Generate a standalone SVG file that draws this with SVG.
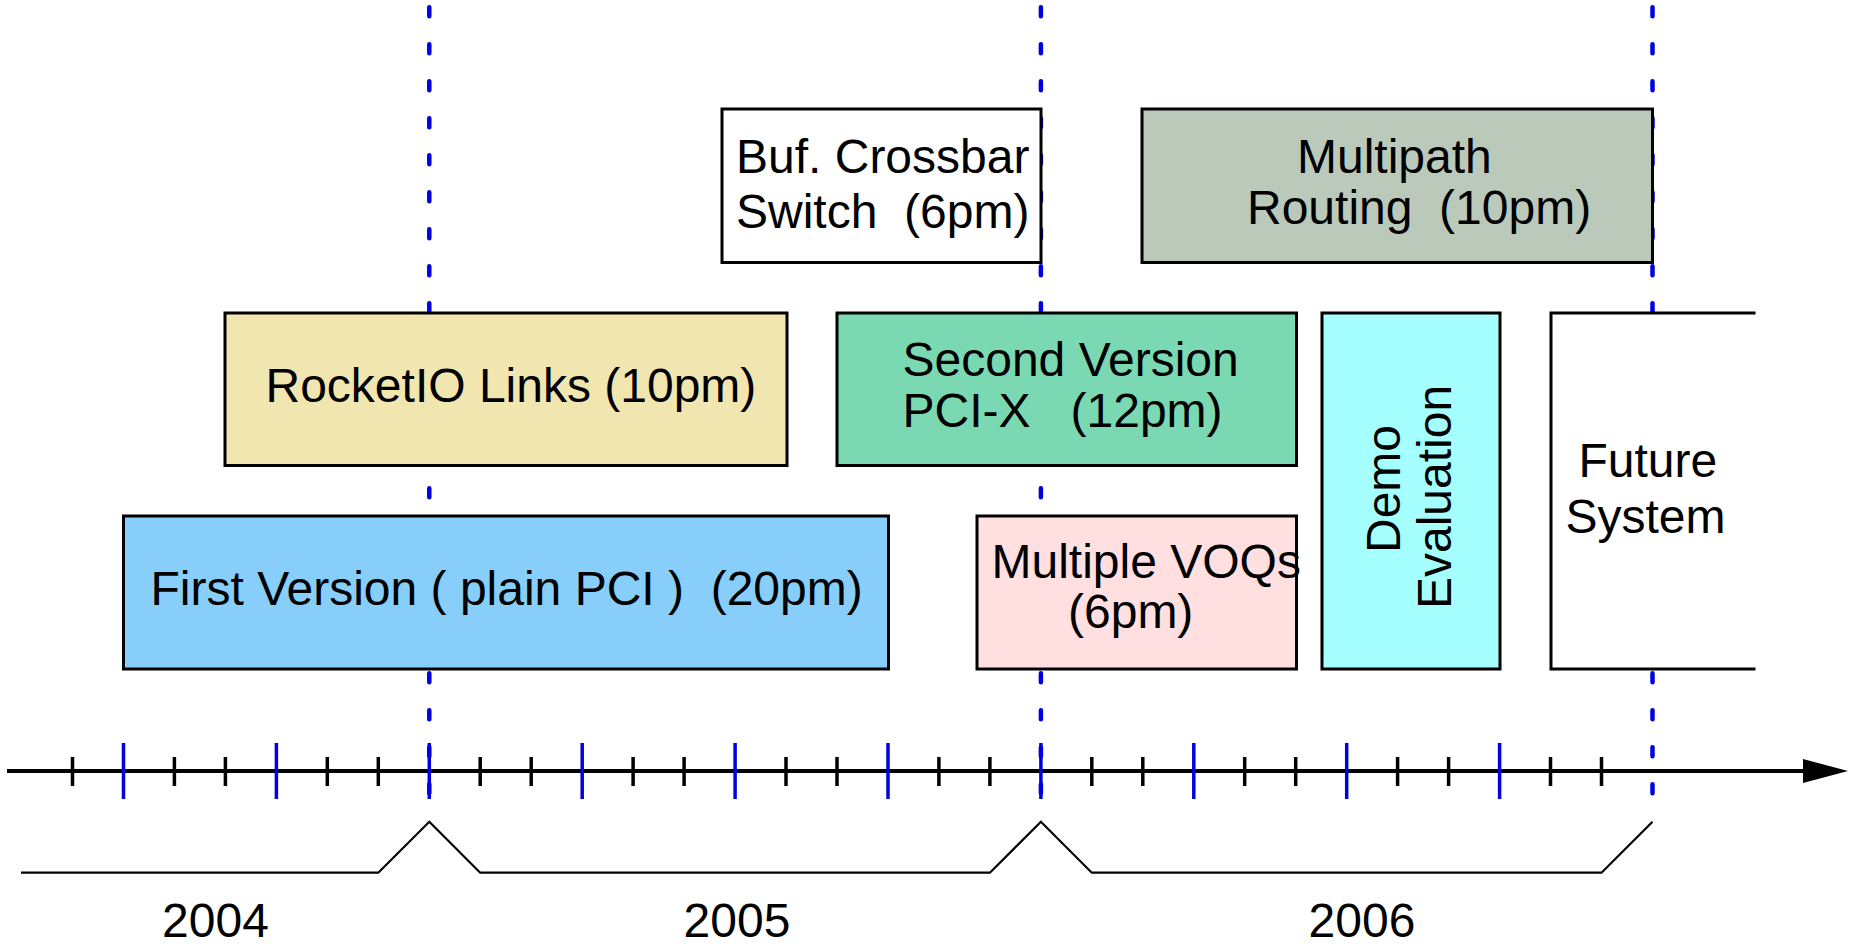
<svg xmlns="http://www.w3.org/2000/svg" width="1850" height="948" viewBox="0 0 1850 948">
<style>
  .box { stroke: #000; stroke-width: 3; }
  .lbl { font-family: "Liberation Sans", Arial, sans-serif; font-size: 48px; fill: #000; white-space: pre; }
  .dash { stroke: #0000e0; stroke-width: 4.5; stroke-dasharray: 9 28; stroke-linecap: round; fill: none; }
  .tk { stroke: #000; stroke-width: 3.5; }
  .tb { stroke: #0000e0; stroke-width: 3.5; }
</style>
<rect width="1850" height="948" fill="#fff"/>
<g id="guides">
  <line class="dash" x1="429.3" y1="7.3" x2="429.3" y2="797"/>
  <line class="dash" x1="1040.9" y1="7.3" x2="1040.9" y2="797"/>
  <line class="dash" x1="1652.5" y1="7.3" x2="1652.5" y2="797"/>
</g>
<g id="buf-crossbar">
  <rect class="box" x="722" y="109" width="319" height="153.5" fill="#fff"/>
  <text class="lbl" x="736" y="172.7">Buf. Crossbar</text>
  <text class="lbl" x="736" y="228">Switch  (6pm)</text>
</g>
<g id="multipath">
  <rect class="box" x="1142" y="109" width="510.5" height="153.5" fill="#bac9ba"/>
  <text class="lbl" x="1297" y="172.7">Multipath</text>
  <text class="lbl" x="1247" y="224">Routing  (10pm)</text>
</g>
<g id="rocketio">
  <rect class="box" x="225" y="313" width="562" height="152.5" fill="#f2e6b0"/>
  <text class="lbl" x="265.5" y="401.5">RocketIO Links (10pm)</text>
</g>
<g id="second-version">
  <rect class="box" x="837" y="313" width="459.5" height="152.5" fill="#7ad8b2"/>
  <text class="lbl" x="902.5" y="376">Second Version</text>
  <text class="lbl" x="902.5" y="427">PCI-X   (12pm)</text>
</g>
<g id="demo-evaluation">
  <rect class="box" x="1322" y="313" width="178" height="356" fill="#a6ffff"/>
  <text class="lbl" text-anchor="middle" transform="translate(1400,489) rotate(-90)">Demo</text>
  <text class="lbl" text-anchor="middle" transform="translate(1450.5,497) rotate(-90)">Evaluation</text>
</g>
<g id="future-system">
  <rect x="1551" y="313" width="204" height="356" fill="#fff"/>
  <path d="M1755.5,313 H1551 V669 H1755.5" fill="none" stroke="#000" stroke-width="3"/>
  <text class="lbl" x="1578.5" y="476.7">Future</text>
  <text class="lbl" x="1565.5" y="533.3">System</text>
</g>
<g id="first-version">
  <rect class="box" x="123.5" y="516" width="765" height="153" fill="#87cefa"/>
  <text class="lbl" x="150.5" y="605">First Version ( plain PCI )  (20pm)</text>
</g>
<g id="multiple-voqs">
  <rect class="box" x="977" y="516" width="319.5" height="153" fill="#ffdfe0"/>
  <text class="lbl" x="991.5" y="578.3">Multiple VOQs</text>
  <text class="lbl" x="1068" y="628.3">(6pm)</text>
</g>
<g id="connectors">
  <line x1="7" y1="771" x2="1810" y2="771" stroke="#000" stroke-width="4"/>
  <polygon points="1803,759 1848,771 1803,783" fill="#000"/>
  <g class="tk">
    <line x1="72.5" y1="757" x2="72.5" y2="786"/>
    <line x1="174.4" y1="757" x2="174.4" y2="786"/>
    <line x1="225.4" y1="757" x2="225.4" y2="786"/>
    <line x1="327.3" y1="757" x2="327.3" y2="786"/>
    <line x1="378.3" y1="757" x2="378.3" y2="786"/>
    <line x1="480.2" y1="757" x2="480.2" y2="786"/>
    <line x1="531.2" y1="757" x2="531.2" y2="786"/>
    <line x1="633.1" y1="757" x2="633.1" y2="786"/>
    <line x1="684.1" y1="757" x2="684.1" y2="786"/>
    <line x1="786.0" y1="757" x2="786.0" y2="786"/>
    <line x1="837.0" y1="757" x2="837.0" y2="786"/>
    <line x1="938.9" y1="757" x2="938.9" y2="786"/>
    <line x1="989.9" y1="757" x2="989.9" y2="786"/>
    <line x1="1091.8" y1="757" x2="1091.8" y2="786"/>
    <line x1="1142.8" y1="757" x2="1142.8" y2="786"/>
    <line x1="1244.7" y1="757" x2="1244.7" y2="786"/>
    <line x1="1295.7" y1="757" x2="1295.7" y2="786"/>
    <line x1="1397.6" y1="757" x2="1397.6" y2="786"/>
    <line x1="1448.6" y1="757" x2="1448.6" y2="786"/>
    <line x1="1550.5" y1="757" x2="1550.5" y2="786"/>
    <line x1="1601.5" y1="757" x2="1601.5" y2="786"/>
  </g>
  <g class="tb">
    <line x1="123.5" y1="743" x2="123.5" y2="799"/>
    <line x1="276.4" y1="743" x2="276.4" y2="799"/>
    <line x1="429.3" y1="743" x2="429.3" y2="799"/>
    <line x1="582.2" y1="743" x2="582.2" y2="799"/>
    <line x1="735.1" y1="743" x2="735.1" y2="799"/>
    <line x1="888.0" y1="743" x2="888.0" y2="799"/>
    <line x1="1040.9" y1="743" x2="1040.9" y2="799"/>
    <line x1="1193.8" y1="743" x2="1193.8" y2="799"/>
    <line x1="1346.7" y1="743" x2="1346.7" y2="799"/>
    <line x1="1499.6" y1="743" x2="1499.6" y2="799"/>
  </g>
  <polyline points="21,872.7 378.3,872.7 429.3,821.7 480.2,872.7 989.9,872.7 1040.9,821.7 1091.8,872.7 1601.5,872.7 1652.5,821.7" fill="none" stroke="#000" stroke-width="2.2"/>
</g>
<g id="years">
  <text class="lbl" x="215.5" y="937" text-anchor="middle">2004</text>
  <text class="lbl" x="737" y="937" text-anchor="middle">2005</text>
  <text class="lbl" x="1362" y="937" text-anchor="middle">2006</text>
</g>
</svg>
